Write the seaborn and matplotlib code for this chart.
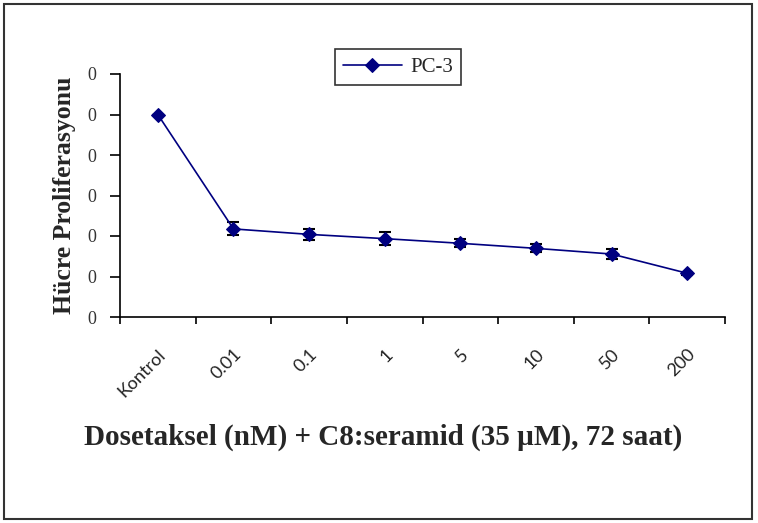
import matplotlib
matplotlib.use("Agg")
import matplotlib.pyplot as plt
import matplotlib.transforms as mtransforms
import seaborn as sns
import numpy as np
import pandas as pd
from matplotlib.patches import Rectangle

categories = ["Kontrol", "0.01", "0.1", "1", "5", "10", "50", "200"]
values = [1.0, 0.435, 0.408, 0.387, 0.364, 0.339, 0.311, 0.216]
errors = [0.0, 0.032, 0.027, 0.033, 0.02, 0.02, 0.023, 0.008]
yticks = [0.0, 0.2, 0.4, 0.6, 0.8, 1.0, 1.2]
ytick_labels = ["0", "0", "0", "0", "0", "0", "0"]
series_name = "PC-3"

sns.set_theme(style="white")
plt.rcParams["font.family"] = ["Liberation Serif", "DejaVu Serif"]

W, H = 758, 523
fig = plt.figure(figsize=(W / 100, H / 100), dpi=100)
ax = fig.add_axes([120 / W, 1 - 317 / H, 605 / W, 243 / H])

pos = np.arange(len(categories))
df = pd.DataFrame({"pos": pos, "val": values, "err": errors, "s": series_name})

ax.errorbar(df["pos"], df["val"], yerr=df["err"], fmt="none", ecolor="black",
            elinewidth=1.2, capsize=4, capthick=1.5, zorder=2)
sns.lineplot(data=df, x="pos", y="val", hue="s", palette=["#000080"], marker="D",
             markersize=7, markeredgecolor="#000080", linewidth=1.2, ax=ax, zorder=3)

ax.set_xlim(-0.5, len(categories) - 0.5)
ax.set_ylim(0, 1.2)
ax.set_yticks(yticks)
ax.set_yticklabels(ytick_labels, fontsize=13, color="#333333")
ax.set_xticks(pos)
ax.set_xticklabels(categories, rotation=45, ha="right", va="top", rotation_mode="anchor",
                   fontsize=13, family=["Lato", "DejaVu Sans"], color="#222222")
offset = mtransforms.ScaledTranslation(-0.27, 0, fig.dpi_scale_trans)
for lab in ax.get_xticklabels():
    lab.set_transform(lab.get_transform() + offset)
ax.set_xticks(np.arange(len(categories) + 1) - 0.5, minor=True)
ax.tick_params(axis="x", which="major", length=0, pad=21)
ax.tick_params(axis="x", which="minor", length=5, width=1.2, color="black", direction="out", bottom=True)
ax.tick_params(axis="y", which="major", length=7, width=1.2, color="black", direction="out", left=True, pad=10)

for s in ["top", "right"]:
    ax.spines[s].set_visible(False)
for s in ["left", "bottom"]:
    ax.spines[s].set_color("black")
    ax.spines[s].set_linewidth(1.2)

ax.set_xlabel("Dosetaksel (nM) + C8:seramid (35 µM), 72 saat)", fontsize=21,
              fontweight="bold", labelpad=10)
ax.xaxis.set_label_coords(0.435, -0.44)
ax.set_ylabel("Hücre Proliferasyonu", fontsize=18.5, fontweight="bold", labelpad=8)

leg = ax.legend(loc="center", bbox_to_anchor=(398 / W, 1 - 67 / H),
                bbox_transform=fig.transFigure, frameon=True, fancybox=False,
                fontsize=15, handlelength=2.8, handletextpad=0.4, borderpad=0.4)
leg.get_frame().set_edgecolor("black")
leg.get_frame().set_linewidth(1.2)

fig.patches.append(Rectangle((4 / W, 4 / H), 748 / W, 515 / H, transform=fig.transFigure,
                             fill=False, edgecolor="#333333", linewidth=1.5))

fig.savefig("out.png", dpi=100)
